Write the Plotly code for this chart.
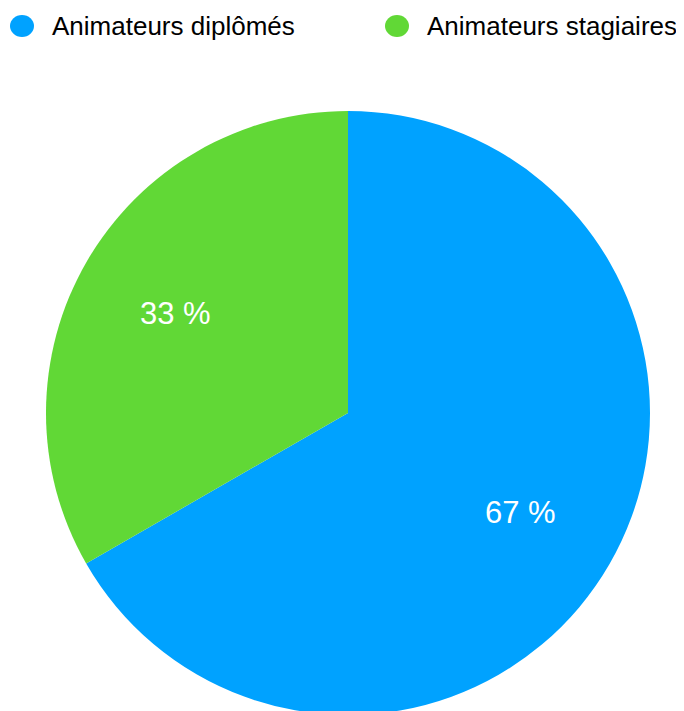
import math
import plotly.graph_objects as go

labels = ["Animateurs diplômés", "Animateurs stagiaires"]
values = [66.7, 33.3]
texts = ["67 %", "33 %"]
colors = ["#00A2FF", "#61D836"]
legend_x = [22, 397]  # legend circle centers (px, reference coords)

W, H = 684, 711
OFF = 8  # page body margin in the browser

def px(x):
    return (x - OFF) / W

def py(y):
    return 1 - (y - OFF) / H

# pie geometry (reference pixel coords)
CX, CY, R = 348, 413, 302

fig = go.Figure()
fig.add_trace(go.Pie(
    labels=labels, values=values,
    marker=dict(colors=colors, line=dict(width=0)),
    sort=False, direction="clockwise", rotation=0,
    textinfo="none",
    domain=dict(x=[px(CX - R), px(CX + R)], y=[max(0, py(CY + R)), py(CY - R)]),
    showlegend=False, hoverinfo="label+percent",
))

shapes = []
annotations = []
for name, col, cx in zip(labels, colors, legend_x):
    shapes.append(dict(type="circle", xref="paper", yref="paper",
                       x0=px(cx - 12), x1=px(cx + 12),
                       y0=py(37), y1=py(15),
                       fillcolor=col, line=dict(width=0)))
    annotations.append(dict(text=name, xref="paper", yref="paper",
                            x=px(cx + 28), y=py(26),
                            xanchor="left", yanchor="middle", showarrow=False,
                            font=dict(family="Liberation Sans", size=26, color="#000000")))

# slice labels placed at ~2/3 of the radius on each slice bisector
total = sum(values)
start = 0.0
for v, t in zip(values, texts):
    mid = (start + v / 2) / total * 2 * math.pi
    start += v
    x = CX + 0.66 * R * math.sin(mid)
    y = CY - 0.66 * R * math.cos(mid)
    annotations.append(dict(text=t, xref="paper", yref="paper",
                            x=px(x), y=py(y), xanchor="center", yanchor="middle",
                            showarrow=False,
                            font=dict(family="Liberation Sans", size=31, color="white")))

fig.update_layout(
    width=W, height=H, margin=dict(l=0, r=0, t=0, b=0),
    paper_bgcolor="white", plot_bgcolor="white",
    shapes=shapes, annotations=annotations, showlegend=False,
)
fig.write_html("out.html")
